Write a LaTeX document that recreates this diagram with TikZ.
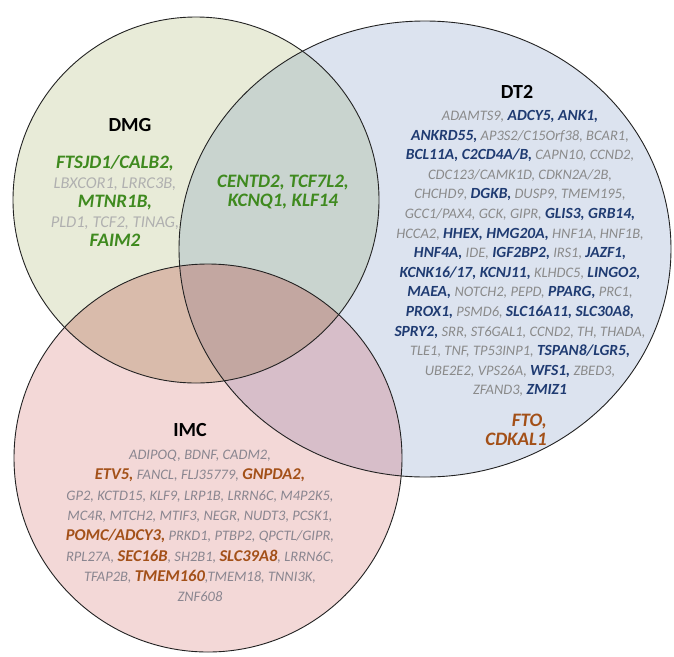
\documentclass[tikz,border=0pt]{standalone}
\usepackage{fontspec}
\setmainfont{Carlito}
\definecolor{dmgfill}{HTML}{E8EBD8}
\definecolor{dtfill}{HTML}{DCE3EF}
\definecolor{imcfill}{HTML}{F3D8D7}
\definecolor{dmgdt}{HTML}{C9D4CF}
\definecolor{dmgimc}{HTML}{D9BBAB}
\definecolor{dtimc}{HTML}{D7BEC9}
\definecolor{triple}{HTML}{C3A7A1}
\definecolor{outline}{HTML}{222222}
\definecolor{navy}{HTML}{1F3B72}
\definecolor{leaf}{HTML}{3F8A1F}
\definecolor{rust}{HTML}{A35018}
\definecolor{dtgray}{HTML}{8A8A8A}
\definecolor{dmggray}{HTML}{B0B0B0}
\definecolor{imcgray}{HTML}{8A8690}
\def\hlsz{15.5}
\newcommand\hl[2]{{\color{#1}\fontsize{\hlsz}{19.6}\selectfont\bfseries #2}}
\def\dmgshape{(196,200) circle (183)}
\def\dtshape{(425,249) ellipse (246 and 228)}
\def\imcshape{(208,458) circle (194)}
\tikzset{
  venn/.style={draw=outline, line width=0.9pt},
  genes/.style={align=center, inner sep=0pt, font=\fontsize{14.5}{19.6}\selectfont\itshape},
  biggenes/.style={align=center, inner sep=0pt, font=\def\hlsz{19}\fontsize{16.5}{19.5}\selectfont\itshape},
  setlabel/.style={font=\fontsize{20}{22}\selectfont\bfseries, inner sep=0pt, text=black},
}
\begin{document}
\begin{tikzpicture}[x=1pt,y=-1pt]
\useasboundingbox (0,0) rectangle (674,656);
\fill[white] (0,0) rectangle (674,656);
% base fills
\fill[dmgfill] \dmgshape;
\fill[dtfill] \dtshape;
\fill[imcfill] \imcshape;
% pairwise overlaps
\begin{scope}\clip \dmgshape; \fill[dmgdt] \dtshape;\end{scope}
\begin{scope}\clip \dmgshape; \fill[dmgimc] \imcshape;\end{scope}
\begin{scope}\clip \dtshape; \fill[dtimc] \imcshape;\end{scope}
\begin{scope}\clip \dmgshape; \clip \dtshape; \fill[triple] \imcshape;\end{scope}
% outlines
\draw[venn] \dmgshape;
\draw[venn] \dtshape;
\draw[venn] \imcshape;
% set labels
\node[setlabel] (dmglabel) at (130,125) {DMG};
\node[setlabel] (dtlabel) at (517,92) {DT2};
\node[setlabel] (imclabel) at (190,430) {IMC};
% DMG genes
\node[biggenes, text=dmggray] (dmggenes) at (115,201) {%
\hl{leaf}{FTSJD1/CALB2,}\\
LBXCOR1, LRRC3B,\\
\hl{leaf}{MTNR1B,}\\
PLD1, TCF2, TINAG,\\
\hl{leaf}{FAIM2}};
% DMG & DT2
\node[biggenes] (dmgdtgenes) at (283,192) {%
\hl{leaf}{CENTD2, TCF7L2,}\\
\hl{leaf}{KCNQ1, KLF14}};
% DT2 genes
\node[genes, text=dtgray] (dtgenes) at (520,253.5) {%
ADAMTS9, \hl{navy}{ADCY5, ANK1,}\\
\hl{navy}{ANKRD55,} AP3S2/C15Orf38, BCAR1,\\
\hl{navy}{BCL11A, C2CD4A/B,} CAPN10, CCND2,\\
CDC123/CAMK1D, CDKN2A/2B,\\
CHCHD9, \hl{navy}{DGKB,} DUSP9, TMEM195,\\
GCC1/PAX4, GCK, GIPR, \hl{navy}{GLIS3, GRB14,}\\
HCCA2, \hl{navy}{HHEX, HMG20A,} HNF1A, HNF1B,\\
\hl{navy}{HNF4A,} IDE, \hl{navy}{IGF2BP2,} IRS1, \hl{navy}{JAZF1,}\\
\hl{navy}{KCNK16/17, KCNJ11,} KLHDC5, \hl{navy}{LINGO2,}\\
\hl{navy}{MAEA,} NOTCH2, PEPD, \hl{navy}{PPARG,} PRC1,\\
\hl{navy}{PROX1,} PSMD6, \hl{navy}{SLC16A11, SLC30A8,}\\
\hl{navy}{SPRY2,} SRR, ST6GAL1, CCND2, TH, THADA,\\
TLE1, TNF, TP53INP1, \hl{navy}{TSPAN8/LGR5,}\\
UBE2E2, VPS26A, \hl{navy}{WFS1,} ZBED3,\\
ZFAND3, \hl{navy}{ZMIZ1}};
% DT2 & IMC
\node[biggenes, align=right, anchor=east] (dtimcgenes) at (547,430) {%
\hl{rust}{FTO,}\\
\hl{rust}{CDKAL1}};
% IMC genes
\node[genes, text=imcgray, font=\def\hlsz{16.5}\fontsize{14.5}{20.3}\selectfont\itshape] (imcgenes) at (200,526) {%
ADIPOQ, BDNF, CADM2,\\
\hl{rust}{ETV5,} FANCL, FLJ35779, \hl{rust}{GNPDA2,}\\
GP2, KCTD15, KLF9, LRP1B, LRRN6C, M4P2K5,\\
MC4R, MTCH2, MTIF3, NEGR, NUDT3, PCSK1,\\
\hl{rust}{POMC/ADCY3,} PRKD1, PTBP2, QPCTL/GIPR,\\
RPL27A, \hl{rust}{SEC16B}, SH2B1, \hl{rust}{SLC39A8}, LRRN6C,\\
TFAP2B, \hl{rust}{TMEM160},TMEM18, TNNI3K,\\
ZNF608};
\end{tikzpicture}
\end{document}
